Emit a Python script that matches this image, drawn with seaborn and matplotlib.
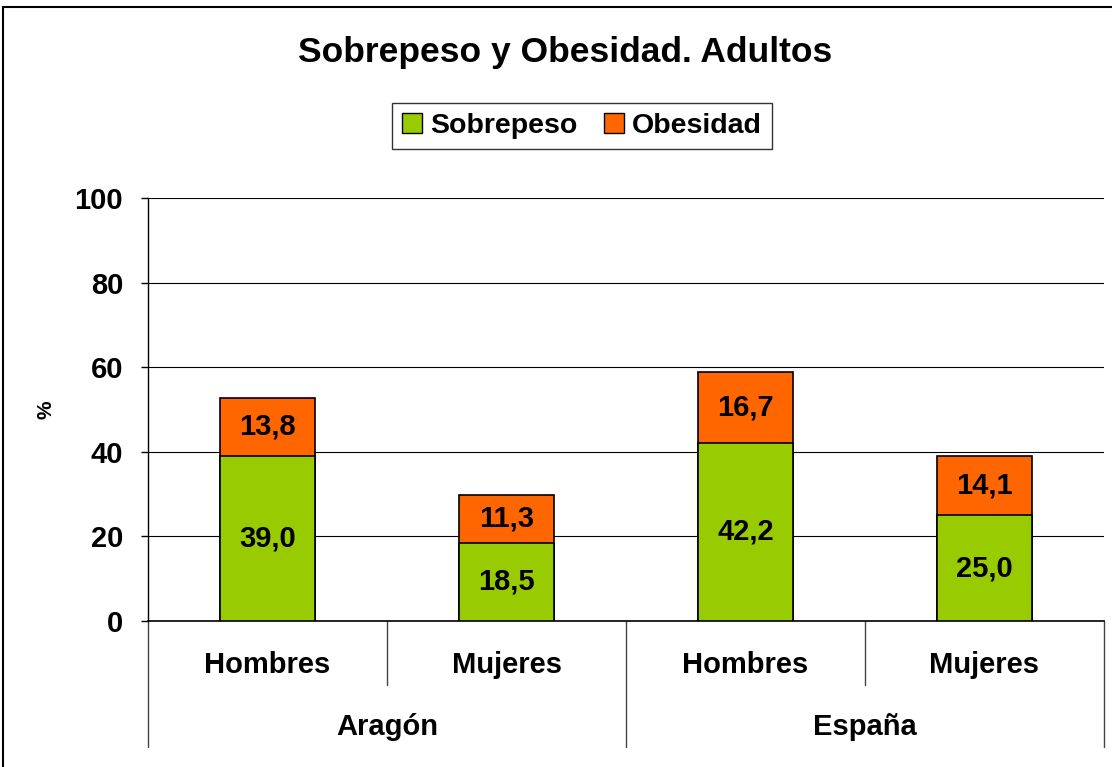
import matplotlib
matplotlib.use("Agg")
import matplotlib.pyplot as plt
import matplotlib.transforms as mtransforms
from matplotlib.patches import Patch, Rectangle
import seaborn as sns
import pandas as pd

# Data
regiones = ["Aragón", "España"]
sexos = ["Hombres", "Mujeres", "Hombres", "Mujeres"]
sobrepeso = [39.0, 18.5, 42.2, 25.0]
obesidad = [13.8, 11.3, 16.7, 14.1]

verde = "#99CC00"
naranja = "#FF6600"

df = pd.DataFrame({
    "key": [f"{r}-{s}" for r, s in zip(["Aragón", "Aragón", "España", "España"], sexos)],
    "sobrepeso": sobrepeso,
    "obesidad": obesidad,
})
df["total"] = df["sobrepeso"] + df["obesidad"]

sns.set_style("white")
plt.rcParams["font.family"] = ["Liberation Sans", "DejaVu Sans"]
plt.rcParams["font.weight"] = "bold"
plt.rcParams["text.color"] = "black"
plt.rcParams["axes.labelcolor"] = "black"
plt.rcParams["xtick.color"] = "black"
plt.rcParams["ytick.color"] = "black"

fig = plt.figure(figsize=(11.12, 7.67), dpi=100)
ax = fig.add_axes([0.1331, 0.1903, 0.8597, 0.5516])

# stacked bars: total (orange) behind, sobrepeso (green) in front
sns.barplot(data=df, x="key", y="total", color=naranja, edgecolor="black",
            linewidth=1.2, width=0.4, saturation=1, ax=ax, zorder=3)
sns.barplot(data=df, x="key", y="sobrepeso", color=verde, edgecolor="black",
            linewidth=1.2, width=0.4, saturation=1, ax=ax, zorder=4)

# value labels
for i, row in df.iterrows():
    ax.text(i, row["sobrepeso"] / 2, f"{row['sobrepeso']:.1f}".replace(".", ","),
            ha="center", va="center", fontsize=21, fontweight="bold", zorder=5)
    ax.text(i, row["sobrepeso"] + row["obesidad"] / 2,
            f"{row['obesidad']:.1f}".replace(".", ","),
            ha="center", va="center", fontsize=21, fontweight="bold", zorder=5)

ax.set_xlim(-0.5, 3.5)
ax.set_ylim(0, 100)
ax.set_yticks([0, 20, 40, 60, 80, 100])
ax.tick_params(axis="y", labelsize=21, length=5, width=1, pad=13, left=True)
for lbl in ax.get_yticklabels():
    lbl.set_fontweight("bold")
ax.yaxis.grid(True, color="black", linewidth=0.8)
ax.set_axisbelow(True)
ax.set_xticks([])
ax.set_xlabel("")
ax.set_ylabel("%", fontsize=15, fontweight="bold")
ax.yaxis.set_label_coords(-0.097, 0.5)

for side in ["top", "right"]:
    ax.spines[side].set_visible(False)
ax.spines["left"].set_color("black")
ax.spines["bottom"].set_color("black")
ax.spines["left"].set_linewidth(1)
ax.spines["bottom"].set_linewidth(1.2)

# two-level category axis
trans = mtransforms.blended_transform_factory(ax.transData, ax.transAxes)
for xs in [0.5, 2.5]:
    ax.plot([xs, xs], [0, -0.151], color="#444444", lw=1, transform=trans, clip_on=False)
for xs in [-0.5, 1.5, 3.5]:
    ax.plot([xs, xs], [0, -0.298], color="#444444", lw=1, transform=trans, clip_on=False)
for i, s in enumerate(sexos):
    ax.text(i, -0.104, s, ha="center", va="center", fontsize=21,
            fontweight="bold", transform=trans)
for j, r in enumerate(regiones):
    ax.text(0.5 + 2 * j, -0.25, r, ha="center", va="center", fontsize=21,
            fontweight="bold", transform=trans)

# title and legend
fig.text(0.508, 0.932, "Sobrepeso y Obesidad. Adultos", ha="center", va="center",
         fontsize=25.5, fontweight="bold")
handles = [Patch(facecolor=verde, edgecolor="black", label="Sobrepeso"),
           Patch(facecolor=naranja, edgecolor="black", label="Obesidad")]
leg = fig.legend(handles=handles, loc="center", bbox_to_anchor=(0.5234, 0.8357),
                 ncol=2, frameon=True, fancybox=False,
                 handlelength=0.7, handleheight=0.7, handletextpad=0.3,
                 columnspacing=0.9, borderpad=0.35, prop={"weight": "bold", "size": 20.5})
leg.get_frame().set_edgecolor("black")
leg.get_frame().set_linewidth(1)

# outer chart border
fig.patches.append(Rectangle((0.003, -0.05), 1.2, 1.041, transform=fig.transFigure,
                             fill=False, edgecolor="black", linewidth=1.5))

fig.savefig("out.png", dpi=100)
